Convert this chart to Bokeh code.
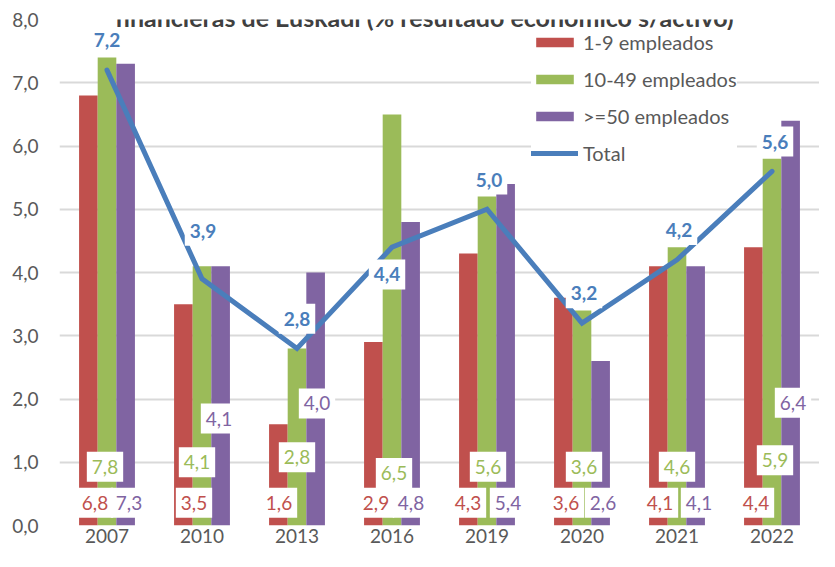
from bokeh.plotting import figure
from bokeh.models import (FactorRange, Range1d, ColumnDataSource, Legend, LegendItem,
                          FixedTicker, Label)
from bokeh.transform import dodge
from bokeh.core.properties import value
from bokeh.embed import file_html
from bokeh.resources import INLINE

# ---------------- data ----------------
YEARS = ["2007", "2010", "2013", "2016", "2019", "2020", "2021", "2022"]
EMP_1_9 = [6.8, 3.5, 1.6, 2.9, 4.3, 3.6, 4.1, 4.4]
EMP_10_49 = [7.4, 4.1, 2.8, 6.5, 5.2, 3.4, 4.4, 5.8]
EMP_50 = [7.3, 4.1, 4.0, 4.8, 5.4, 2.6, 4.1, 6.4]
TOTAL = [7.2, 3.9, 2.8, 4.4, 5.0, 3.2, 4.2, 5.6]
# data labels as printed in the chart (the 10-49 labels differ from bar heights)
LBL_10_49 = ["7,8", "4,1", "2,8", "6,5", "5,6", "3,6", "4,6", "5,9"]
SERIES = ["1-9 empleados", "10-49 empleados", ">=50 empleados", "Total"]
Y_TICKS = [0, 1, 2, 3, 4, 5, 6, 7, 8]
Y_TICK_LABELS = ["0,0", "1,0", "2,0", "3,0", "4,0", "5,0", "6,0", "7,0", "8,0"]
TITLE = "financieras de Euskadi (% resultado económico s/activo)"

# ---------------- layout of the data labels ----------------
RED_LBL_Y = [0.36] * 8
GREEN_LBL_Y = [0.93, 1.0, 1.08, 0.83, 0.93, 0.93, 0.93, 1.03]
PURPLE_LBL_Y = [0.36, 1.69, 1.93, 0.36, 0.36, 0.36, 0.36, 1.94]
RED_DX = [-12, -8, -18, -16, -19, -16, -17, -16]
GREEN_DX = [-2, -5, 0, 2, 1, 2, 0, 3]
PURPLE_DX = [22, 17, 20, 19, 21, 21, 22, 21]
TOTAL_DY = [0.47, 0.76, 0.47, -0.43, 0.47, 0.47, 0.47, 0.47]
TOTAL_DX = [0, 1, 0, -5, 2, 2, 2, 3]

RED, GREEN, PURPLE, BLUE = "#c0504d", "#9bbb59", "#8064a2", "#4a7ebb"
FONT = "Lato"
BW = 0.196


def fmt(v):
    return f"{v:.1f}".replace(".", ",")


src = ColumnDataSource(dict(year=YEARS, a=EMP_1_9, b=EMP_10_49, c=EMP_50, t=TOTAL))

p = figure(x_range=FactorRange(factors=YEARS, range_padding=0), y_range=Range1d(0, 8),
           width=819, height=551, output_backend="svg", toolbar_location=None,
           min_border_left=59, min_border_right=0, min_border_top=19, min_border_bottom=26)
p.outline_line_color = None
p.background_fill_color = "white"
p.border_fill_color = "white"

r1 = p.vbar(x=dodge("year", -BW, range=p.x_range), top="a", width=BW, source=src,
            fill_color=RED, line_color=None)
r2 = p.vbar(x=dodge("year", 0, range=p.x_range), top="b", width=BW, source=src,
            fill_color=GREEN, line_color=None)
r3 = p.vbar(x=dodge("year", BW, range=p.x_range), top="c", width=BW, source=src,
            fill_color=PURPLE, line_color=None)
r4 = p.line(x="year", y="t", source=src, line_color=BLUE, line_width=5,
            line_join="miter", line_cap="round")


def add_labels(texts, ys, dxs, color, bold=False, size="19px"):
    s = ColumnDataSource(dict(year=YEARS, y=ys, txt=texts, dx=dxs))
    p.text(x="year", y="y", text="txt", x_offset="dx", source=s,
           text_align="center", text_baseline="middle",
           text_font=value(FONT), text_font_size=size, text_color=color,
           text_font_style="bold" if bold else "normal",
           background_fill_color="white", padding=(5, 8))


add_labels([fmt(v) for v in EMP_1_9], RED_LBL_Y, RED_DX, RED)
add_labels(LBL_10_49, GREEN_LBL_Y, GREEN_DX, GREEN)
add_labels([fmt(v) for v in EMP_50], PURPLE_LBL_Y, PURPLE_DX, PURPLE)
add_labels([fmt(v) for v in TOTAL], [t + d for t, d in zip(TOTAL, TOTAL_DY)],
           TOTAL_DX, BLUE, bold=True, size="19px")

# axes and grid
p.ygrid.ticker = FixedTicker(ticks=Y_TICKS)
p.ygrid.grid_line_color = "#d9d9d9"
p.ygrid.grid_line_width = 2
p.xgrid.visible = False

p.yaxis.ticker = FixedTicker(ticks=Y_TICKS)
p.yaxis.major_label_overrides = dict(zip(Y_TICKS, Y_TICK_LABELS))
p.yaxis.axis_line_color = None
p.yaxis.major_tick_line_color = None
p.yaxis.minor_tick_line_color = None
p.yaxis.major_tick_out = 0
p.yaxis.major_tick_in = 0
p.yaxis.major_label_standoff = 21
p.yaxis.major_label_text_font = FONT
p.yaxis.major_label_text_font_size = "19px"
p.yaxis.major_label_text_color = "#595959"

p.xaxis.axis_line_color = None
p.xaxis.major_tick_line_color = None
p.xaxis.major_tick_out = 0
p.xaxis.major_tick_in = 0
p.xaxis.major_label_standoff = 3
p.xaxis.major_label_text_font = FONT
p.xaxis.major_label_text_font_size = "19px"
p.xaxis.major_label_text_color = "#595959"

legend = Legend(items=[LegendItem(label=SERIES[0], renderers=[r1]),
                       LegendItem(label=SERIES[1], renderers=[r2]),
                       LegendItem(label=SERIES[2], renderers=[r3]),
                       LegendItem(label=SERIES[3], renderers=[r4])],
                location=(472, 360), glyph_width=47, glyph_height=12,
                label_height=22, spacing=13, padding=10, margin=0, label_standoff=5,
                label_text_font=FONT, label_text_font_size="20px",
                label_text_color="#595959", border_line_color=None,
                background_fill_color="white", background_fill_alpha=1.0)
p.add_layout(legend)

# title (second line of the chart title, its top cut off)
p.add_layout(Label(x=3.84, y=8.04, text=TITLE, text_align="center",
                   text_baseline="alphabetic", text_font=FONT, text_font_size="25px",
                   text_font_style="bold", text_color="#404040"))

open("out.html", "w").write(file_html(p, INLINE))
